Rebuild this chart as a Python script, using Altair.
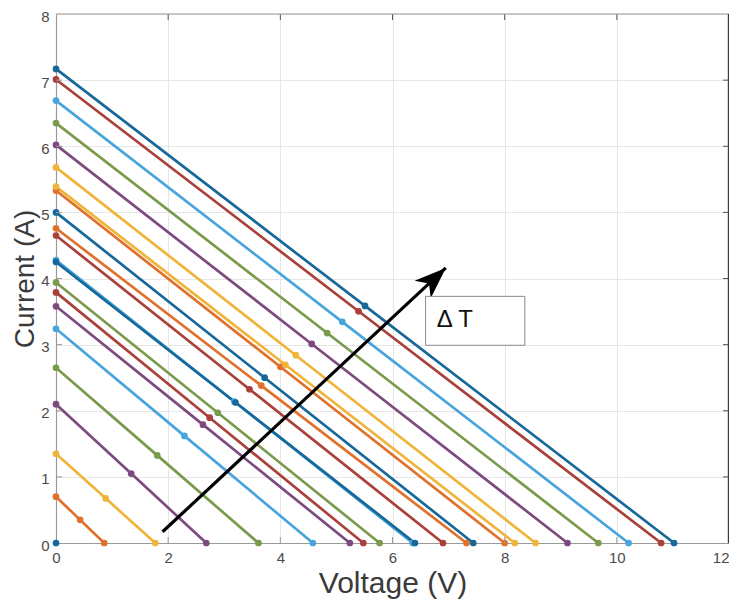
import altair as alt
import pandas as pd

# Short-circuit currents (A) and open-circuit voltages (V) of each I-V line
isc = [0.00, 0.70, 1.35, 2.10, 2.65, 3.24, 3.58, 3.79, 3.94, 4.28, 4.25,
       4.65, 4.76, 5.00, 5.33, 5.39, 5.68, 6.02, 6.35, 6.69, 7.01, 7.17]
voc = [0.00, 0.86, 1.77, 2.68, 3.61, 4.58, 5.24, 5.48, 5.77, 6.36, 6.40,
       6.90, 7.32, 7.44, 8.00, 8.18, 8.55, 9.12, 9.67, 10.21, 10.79, 11.02]
line_colors = ["#17689a", "#e0712c", "#f0b43a", "#7d4a80", "#7a9a4c", "#48a5dc",
               "#7d4a80", "#a9403a", "#7a9a4c", "#48a5dc", "#17689a", "#a9403a",
               "#e0712c", "#17689a", "#e0712c", "#f0b43a", "#f0b43a", "#7d4a80",
               "#7a9a4c", "#48a5dc", "#a9403a", "#17689a"]

x_ticks = [0, 2, 4, 6, 8, 10, 12]
y_ticks = [0, 1, 2, 3, 4, 5, 6, 7, 8]

arrow_start = (1.90, 0.17)
arrow_end = (6.95, 4.16)
box_x = (6.59, 8.36)
box_y = (2.99, 3.73)
label_text = "Δ T"
label_pos = (6.79, 3.37)

rows = []
for k, (i0, v0) in enumerate(zip(isc, voc)):
    sid = f"s{k:02d}"
    if i0 == 0 and v0 == 0:
        rows.append({"series": sid, "V": 0.0, "I": 0.0, "o": 0})
        continue
    rows.append({"series": sid, "V": 0.0, "I": i0, "o": 0})
    rows.append({"series": sid, "V": v0 / 2, "I": i0 / 2, "o": 1})
    rows.append({"series": sid, "V": v0, "I": 0.0, "o": 2})
df = pd.DataFrame(rows)
series_ids = [f"s{k:02d}" for k in range(len(isc))]

W, H = 673, 529
FONT = "Liberation Sans"

xs = alt.Scale(domain=[0, 12], nice=False, zero=False)
ys = alt.Scale(domain=[0, 8], nice=False, zero=False)
cs = alt.Scale(domain=series_ids, range=line_colors)

base = alt.Chart(df)

lines = base.mark_line(strokeWidth=2.7).encode(
    x=alt.X("V:Q", scale=xs, title="Voltage (V)",
            axis=alt.Axis(values=x_ticks, grid=True, format="d", labelFlush=False,
                          labelAlign={"condition": {"test": "datum.value == 12", "value": "right"},
                                      "value": "center"})),
    y=alt.Y("I:Q", scale=ys, title="Current (A)",
            axis=alt.Axis(values=y_ticks, grid=True, format="d", labelFlush=False)),
    color=alt.Color("series:N", scale=cs, legend=None),
    order="o:Q",
)
points = base.mark_circle(size=45, opacity=1).encode(
    x=alt.X("V:Q", scale=xs),
    y=alt.Y("I:Q", scale=ys),
    color=alt.Color("series:N", scale=cs, legend=None),
)

arrow_df = pd.DataFrame({"V": [arrow_start[0], arrow_end[0]],
                         "I": [arrow_start[1], arrow_end[1]], "o": [0, 1]})
arrow_line = alt.Chart(arrow_df).mark_line(color="black", strokeWidth=3.2).encode(
    x=alt.X("V:Q", scale=xs), y=alt.Y("I:Q", scale=ys), order="o:Q")
head_df = pd.DataFrame({"V": [arrow_end[0]], "I": [arrow_end[1]]})
arrow_head = alt.Chart(head_df).mark_point(
    shape="M0,0 L0.75,2 L0,1.45 L-0.75,2 Z", filled=True, color="black",
    opacity=1, size=1000, angle=47, strokeWidth=0,
).encode(x=alt.X("V:Q", scale=xs), y=alt.Y("I:Q", scale=ys))

box_df = pd.DataFrame({"x1": [box_x[0]], "x2": [box_x[1]],
                       "y1": [box_y[0]], "y2": [box_y[1]]})
box = alt.Chart(box_df).mark_rect(fill="white", stroke="#8a8a8a", strokeWidth=1).encode(
    x=alt.X("x1:Q", scale=xs), x2="x2:Q",
    y=alt.Y("y1:Q", scale=ys), y2="y2:Q")
lab_df = pd.DataFrame({"V": [label_pos[0]], "I": [label_pos[1]], "t": [label_text]})
label = alt.Chart(lab_df).mark_text(align="left", baseline="middle", fontSize=24,
                                    font=FONT, color="#111111").encode(
    x=alt.X("V:Q", scale=xs), y=alt.Y("I:Q", scale=ys), text="t:N")

# border (top gray, right dark)
top_rule = alt.Chart(pd.DataFrame({"a": [0]})).mark_rule(color="#9a9a9a", strokeWidth=1.2).encode(
    x=alt.value(0), x2=alt.value(W), y=alt.value(0))
right_rule = alt.Chart(pd.DataFrame({"a": [0]})).mark_rule(color="#3a3a3a", strokeWidth=1.2).encode(
    x=alt.value(W - 0.6), y=alt.value(0), y2=alt.value(H))

# inward ticks
xt_df = pd.DataFrame({"V": x_ticks[1:-1]})
yt_df = pd.DataFrame({"I": y_ticks[1:-1]})
xt_bot = alt.Chart(xt_df).mark_rule(color="#9a9a9a", strokeWidth=1).encode(
    x=alt.X("V:Q", scale=xs), y=alt.value(H), y2=alt.value(H - 6))
xt_top = alt.Chart(xt_df).mark_rule(color="#555555", strokeWidth=1).encode(
    x=alt.X("V:Q", scale=xs), y=alt.value(0), y2=alt.value(6))
yt_left = alt.Chart(yt_df).mark_rule(color="#9a9a9a", strokeWidth=1).encode(
    y=alt.Y("I:Q", scale=ys), x=alt.value(0), x2=alt.value(6))
yt_right = alt.Chart(yt_df).mark_rule(color="#555555", strokeWidth=1).encode(
    y=alt.Y("I:Q", scale=ys), x=alt.value(W), x2=alt.value(W - 6))

chart = alt.layer(
    lines, points, xt_bot, xt_top, yt_left, yt_right,
    arrow_line, arrow_head, box, label, top_rule, right_rule,
).properties(
    width=W, height=H,
    autosize=alt.AutoSizeParams(type="none"),
    padding={"left": 48, "top": 6, "right": 0, "bottom": 56},
    background="white",
).configure_view(stroke=None).configure_axis(
    domainColor="#9a9a9a", domainWidth=1.2, tickSize=0, gridColor="#e6e6e6",
    gridWidth=1, labelFont=FONT, labelFontSize=15, labelColor="#4a4a4a",
    titleFont=FONT, titleFontSize=30, titleFontWeight="normal",
    titleColor="#3a3a3a",
).configure_axisX(titlePadding=3, labelPadding=7).configure_axisY(
    titlePadding=1, labelPadding=7, titleFontSize=28, labelOffset=2)

chart.save("out.html", embed_options={"renderer": "svg", "actions": False})
